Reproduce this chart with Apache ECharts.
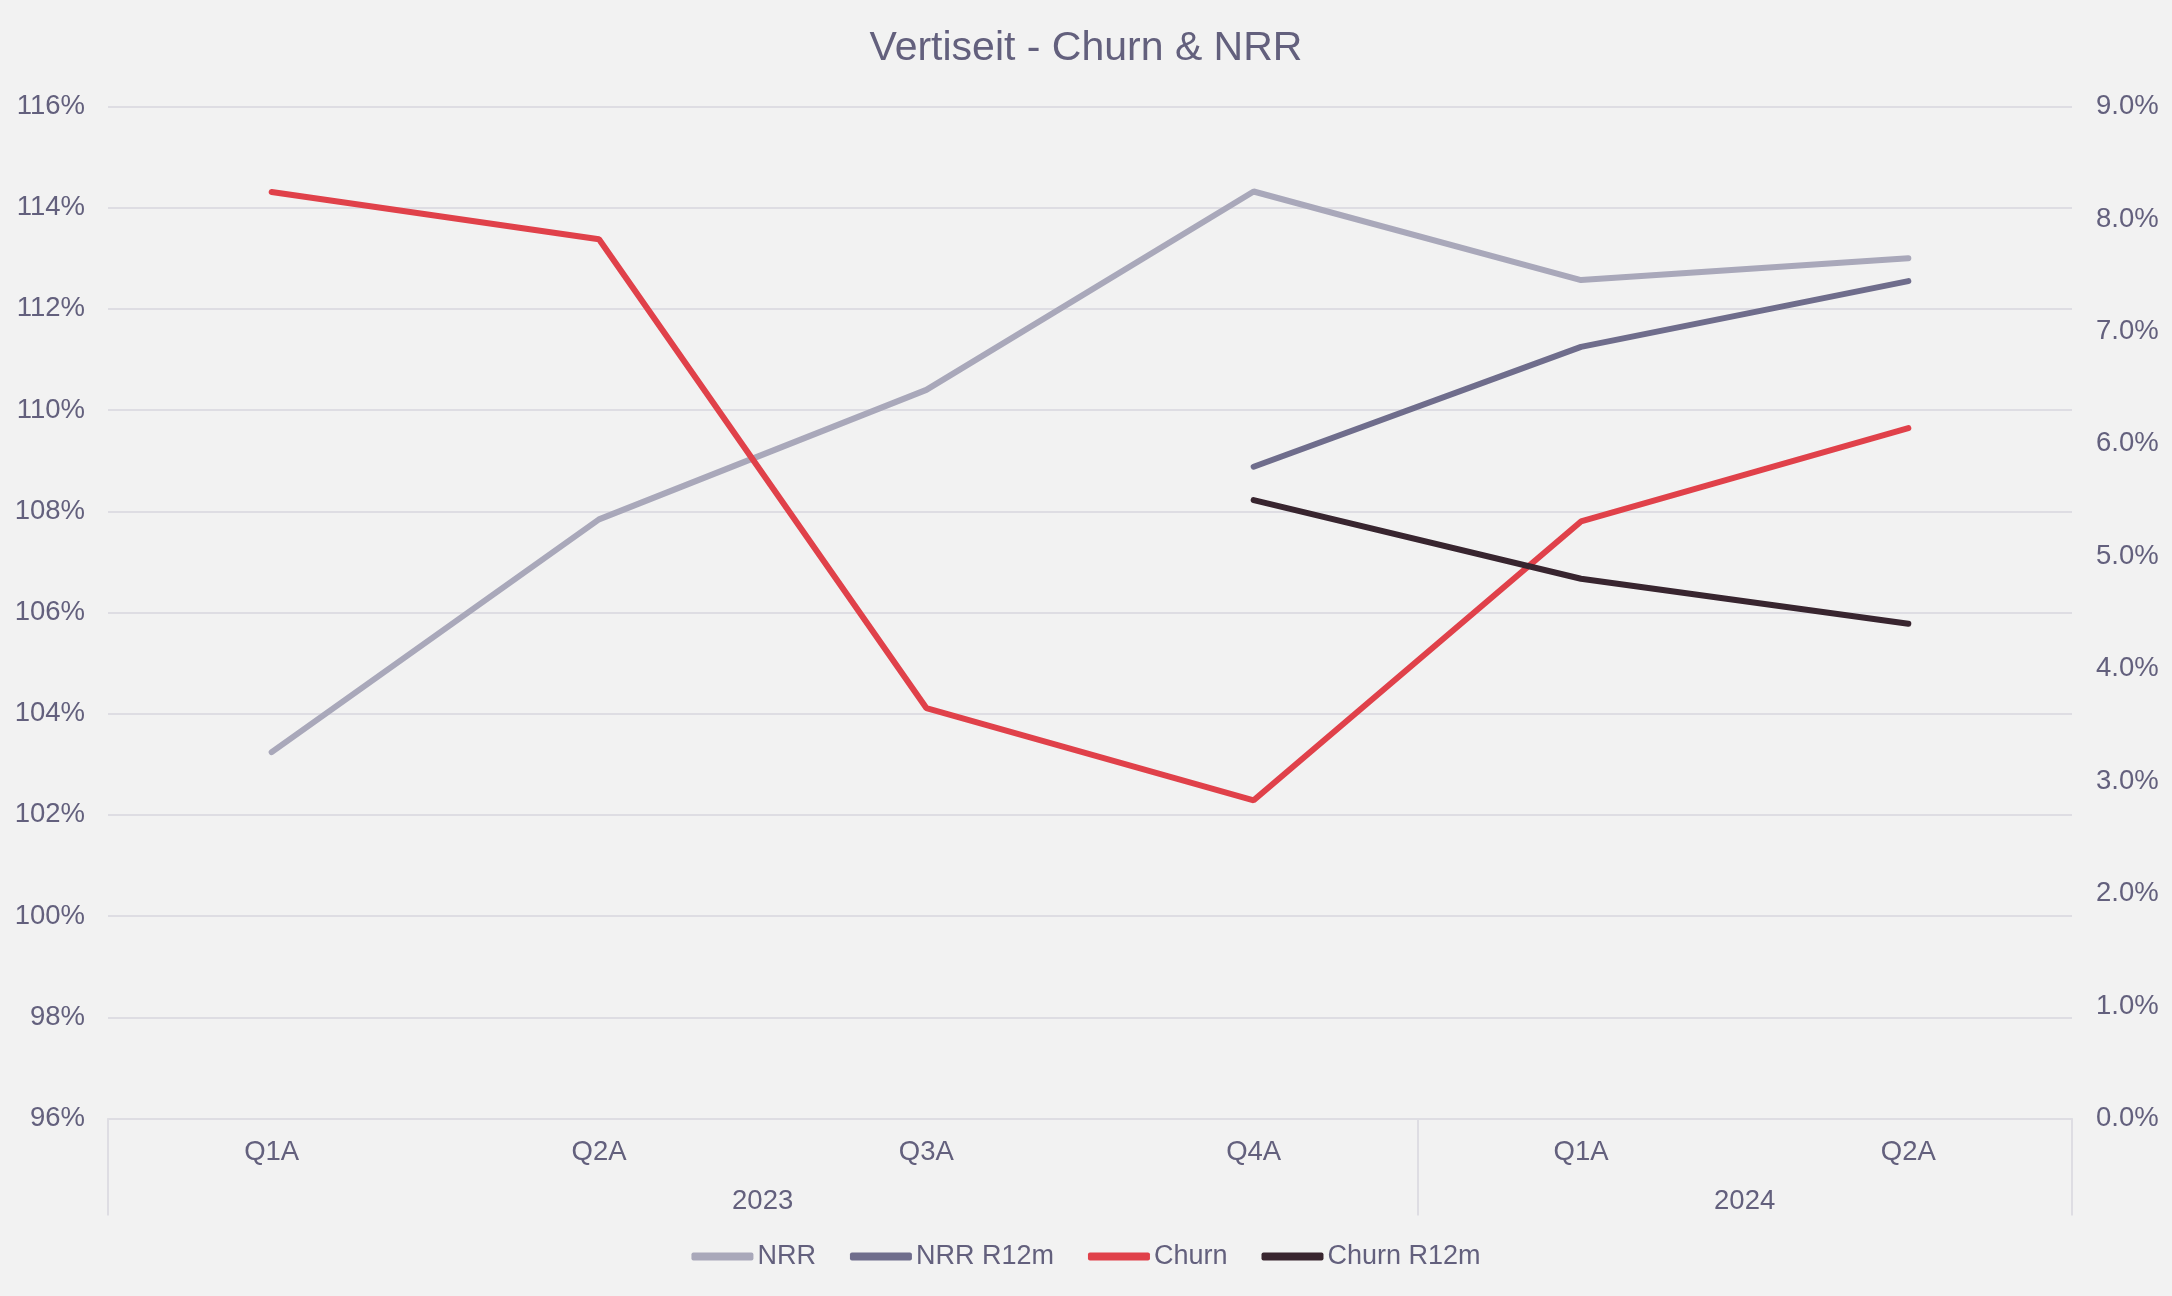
<!DOCTYPE html>
<html>
<head>
<meta charset="utf-8">
<title>Vertiseit - Churn & NRR</title>
<script src="https://cdn.jsdelivr.net/npm/echarts@6/dist/echarts.min.js"></script>
<style>
  html, body { margin: 0; padding: 0; background: #f2f2f2; }
  #chart { width: 2172px; height: 1296px; }
</style>
</head>
<body>
<div id="chart"></div>
<script>
// quarters on the x axis, grouped by year
const quarters = ['Q1A', 'Q2A', 'Q3A', 'Q4A', 'Q1A', 'Q2A'];
const years = ['2023', '2024'];
const quartersPerYear = [4, 2];

// left axis (NRR, %)
const nrr = [103.24, 107.84, 110.40, 114.32, 112.57, 113.00];
const nrrR12m = [null, null, null, 108.88, 111.25, 112.55];
// right axis (churn, %)
const churn = [8.24, 7.82, 3.65, 2.83, 5.31, 6.14];
const churnR12m = [null, null, null, 5.50, 4.80, 4.40];

const textColor = '#63607d';
const lineColor = '#dedde3';
const font = '"Liberation Sans", Arial, sans-serif';

// year group boundaries and label centres (in quarter units)
let yearTicks = [0];
let yearCentres = [];
quartersPerYear.forEach(n => {
  const start = yearTicks[yearTicks.length - 1];
  yearCentres.push(start + n / 2);
  yearTicks.push(start + n);
});

let myChart = echarts.init(document.getElementById('chart'));
myChart.setOption({
  backgroundColor: '#f2f2f2',
  textStyle: { fontFamily: font },
  title: {
    text: 'Vertiseit - Churn & NRR',
    left: 'center',
    top: 23,
    textStyle: { color: textColor, fontSize: 41, fontWeight: 'normal', fontFamily: font }
  },
  legend: {
    bottom: 21,
    left: 'center',
    icon: 'roundRect',
    itemWidth: 62,
    itemHeight: 8,
    itemGap: 34,
    textStyle: { color: textColor, fontSize: 27, padding: [0, 0, 0, -1] },
    data: ['NRR', 'NRR R12m', 'Churn', 'Churn R12m']
  },
  grid: {
    left: 108,
    right: 100,
    top: 106.5,
    bottom: 177.5
  },
  xAxis: [
    {
      type: 'category',
      data: quarters,
      boundaryGap: true,
      axisLine: { lineStyle: { color: lineColor, width: 2 } },
      axisTick: { show: false },
      axisLabel: { color: textColor, fontSize: 27.5, margin: 20 }
    },
    {
      type: 'value',
      position: 'bottom',
      min: 0,
      max: quarters.length,
      axisLine: { show: false },
      splitLine: { show: false },
      axisTick: {
        show: true,
        customValues: yearTicks,
        length: 97,
        lineStyle: { color: lineColor, width: 2 }
      },
      axisLabel: {
        color: textColor,
        fontSize: 27.5,
        margin: 69,
        customValues: yearCentres,
        formatter: function (v) {
          return years[yearCentres.indexOf(v)];
        }
      }
    }
  ],
  yAxis: [
    {
      type: 'value',
      min: 96,
      max: 116,
      interval: 2,
      axisLine: { show: false },
      axisTick: { show: false },
      axisLabel: { color: textColor, fontSize: 27.5, margin: 23, formatter: '{value}%' },
      splitLine: { lineStyle: { color: lineColor, width: 2 } }
    },
    {
      type: 'value',
      min: 0,
      max: 9,
      interval: 1,
      axisLine: { show: false },
      axisTick: { show: false },
      axisLabel: {
        color: textColor,
        fontSize: 27.5,
        margin: 24,
        formatter: function (v) { return v.toFixed(1) + '%'; }
      },
      splitLine: { show: false }
    }
  ],
  series: [
    {
      name: 'NRR',
      type: 'line',
      yAxisIndex: 0,
      symbol: 'none',
      itemStyle: { color: '#a9a8ba' },
      lineStyle: { color: '#a9a8ba', width: 6, cap: 'round' },
      data: nrr
    },
    {
      name: 'NRR R12m',
      type: 'line',
      yAxisIndex: 0,
      symbol: 'none',
      itemStyle: { color: '#6f6d8c' },
      lineStyle: { color: '#6f6d8c', width: 6, cap: 'round' },
      data: nrrR12m
    },
    {
      name: 'Churn',
      type: 'line',
      yAxisIndex: 1,
      symbol: 'none',
      itemStyle: { color: '#e0414a' },
      lineStyle: { color: '#e0414a', width: 6, cap: 'round' },
      data: churn
    },
    {
      name: 'Churn R12m',
      type: 'line',
      yAxisIndex: 1,
      symbol: 'none',
      itemStyle: { color: '#38252f' },
      lineStyle: { color: '#38252f', width: 6, cap: 'round' },
      data: churnR12m
    }
  ]
});
</script>
</body>
</html>
